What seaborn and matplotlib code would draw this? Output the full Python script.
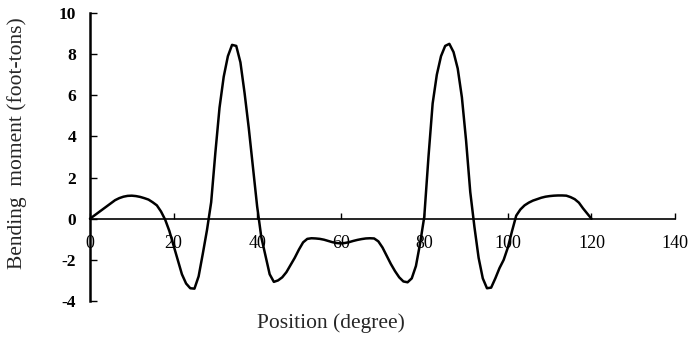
import matplotlib
matplotlib.use("Agg")
import matplotlib.pyplot as plt
import seaborn as sns
import pandas as pd

# Bending moment along the ring, sampled every degree
position = list(range(0, 121))
moment = [
    0.00, 0.15, 0.30, 0.45, 0.60, 0.75, 0.90, 1.00, 1.07, 1.11,   # 0-9
    1.12, 1.10, 1.06, 1.00, 0.93, 0.80, 0.65, 0.35, -0.05, -0.60, # 10-19
    -1.30, -2.00, -2.70, -3.15, -3.38, -3.40, -2.80, -1.70, -0.55, 0.80,  # 20-29
    3.20, 5.40, 6.90, 7.90, 8.45, 8.40, 7.60, 6.10, 4.40, 2.50,   # 30-39
    0.60, -0.90, -1.80, -2.70, -3.07, -3.00, -2.85, -2.60, -2.25, -1.90,  # 40-49
    -1.50, -1.15, -0.98, -0.95, -0.96, -0.98, -1.02, -1.08, -1.14, -1.18,  # 50-59
    -1.20, -1.18, -1.14, -1.08, -1.03, -0.99, -0.96, -0.95, -0.96, -1.10,  # 60-69
    -1.40, -1.80, -2.20, -2.55, -2.85, -3.05, -3.09, -2.90, -2.30, -1.20,  # 70-79
    0.10, 3.00, 5.60, 7.00, 7.90, 8.40, 8.50, 8.10, 7.30, 5.90,   # 80-89
    3.80, 1.30, -0.40, -1.90, -2.90, -3.38, -3.35, -2.90, -2.40, -2.00,  # 90-99
    -1.40, -0.60, 0.15, 0.45, 0.65, 0.78, 0.88, 0.95, 1.02, 1.07,  # 100-109
    1.10, 1.12, 1.13, 1.13, 1.12, 1.05, 0.95, 0.78, 0.50, 0.25,   # 110-119
    0.00,                                                           # 120
]
x_ticks = [0, 20, 40, 60, 80, 100, 120, 140]
y_ticks = [-4, -2, 0, 2, 4, 6, 8, 10]

df = pd.DataFrame({"position": position, "moment": moment})

sns.set_style("white")
plt.rcParams["font.family"] = ["Liberation Serif", "DejaVu Serif"]
plt.rcParams["xtick.direction"] = "in"
plt.rcParams["ytick.direction"] = "in"

fig = plt.figure(figsize=(6.89, 3.40), dpi=100)
ax = fig.add_axes([0.1306, 0.1147, 0.8491, 0.8471])

sns.lineplot(data=df, x="position", y="moment", ax=ax, color="black",
             linewidth=1.8, clip_on=False)

ax.set_xlim(0, 140)
ax.set_ylim(-4, 10)

# x axis runs through zero, y axis at the left edge
ax.spines["bottom"].set_position(("data", 0))
ax.spines["right"].set_visible(False)
ax.spines["top"].set_visible(False)
ax.spines["bottom"].set_linewidth(1.2)
ax.spines["left"].set_linewidth(1.8)
ax.spines["bottom"].set_color("black")
ax.spines["left"].set_color("black")

ax.tick_params(axis="x", bottom=True, direction="in", length=4, width=1.0,
               pad=12, colors="black", labelsize=13)
ax.tick_params(axis="y", left=True, direction="in", length=5, width=1.0,
               pad=10, colors="black", labelsize=12.5)

ax.set_xticks(x_ticks)
ax.set_yticks(y_ticks)
ax.set_xticklabels([str(v) for v in x_ticks])
ax.set_yticklabels([str(v) for v in y_ticks], fontweight="bold")

ax.set_xlabel("")
ax.set_ylabel("")
fig.text(0.48, 0.05, "Position (degree)", ha="center", va="center",
         fontsize=15.5)
fig.text(0.025, 0.58, "Bending  moment (foot-tons)", ha="center",
         va="center", rotation=90, fontsize=15.5)

fig.savefig("out.png", dpi=100)
